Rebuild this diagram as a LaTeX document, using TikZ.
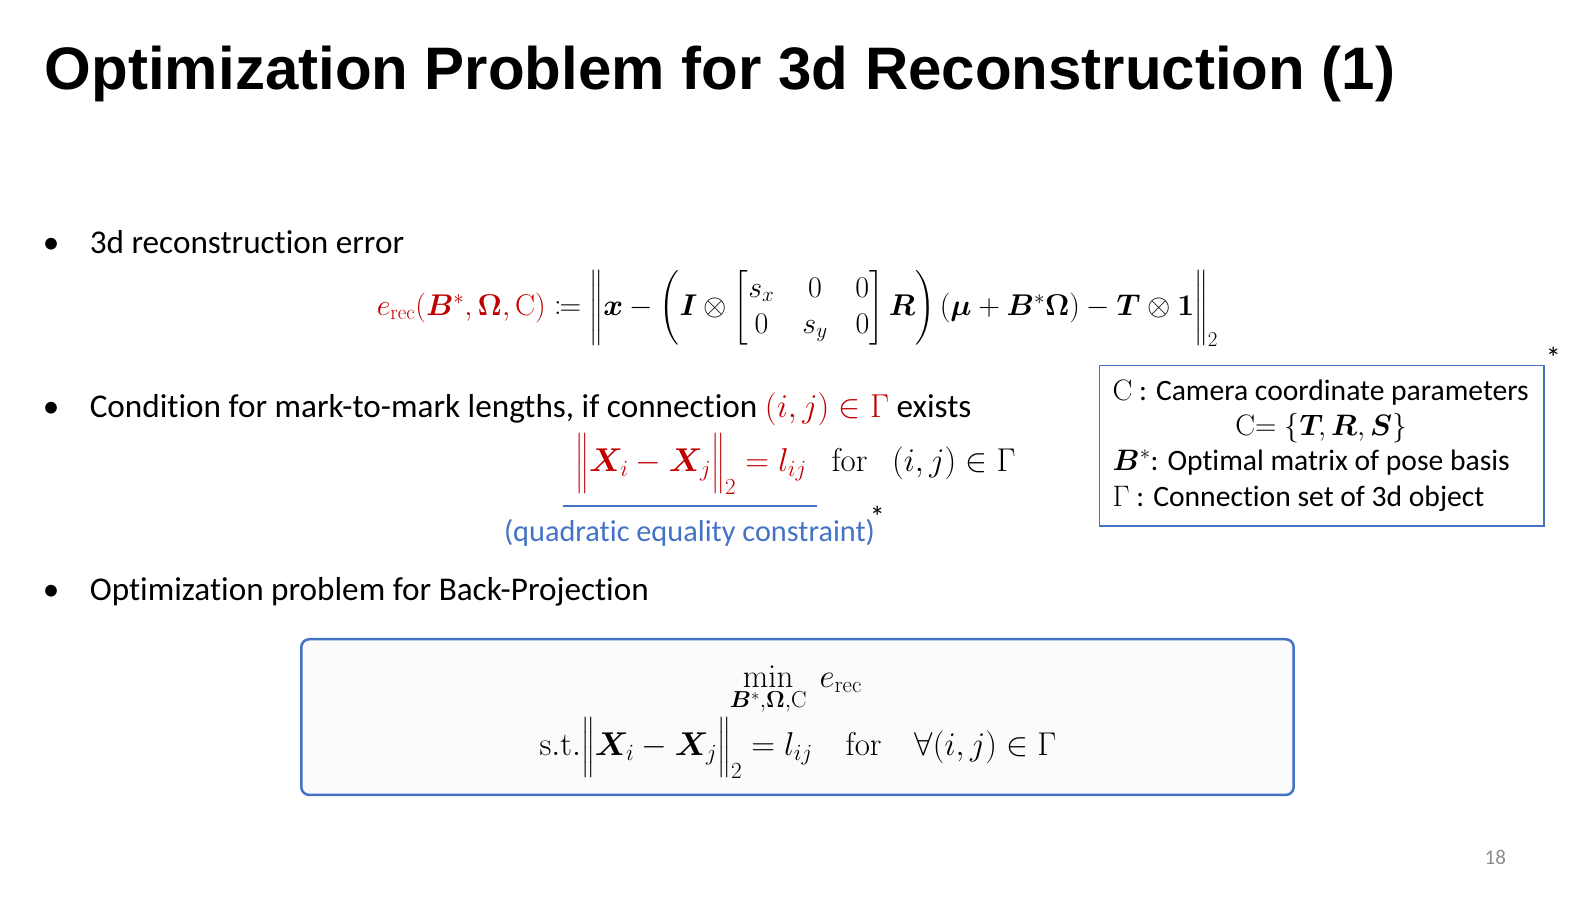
\RequirePackage{fix-cm}
\documentclass[tikz,border=0pt]{standalone}
\usepackage{mathtools}
\usepackage{bm}
\usepackage[no-math]{fontspec}
\setmainfont{Carlito}[Ligatures=NoCommon]
\newfontfamily\titlefont{Liberation Sans}
\definecolor{slidered}{HTML}{C00000}
\definecolor{slideblue}{HTML}{4472C4}
\definecolor{boxgray}{HTML}{FBFBFB}
\definecolor{pagegray}{HTML}{8C8C8C}
\newcommand\pxu{1.01786}

\begin{document}
\begin{tikzpicture}[x=\pxu pt,y=-\pxu pt,
  body/.style={anchor=base west,inner sep=0pt,font=\fontsize{33.2}{40}\selectfont},
  eq/.style={inner sep=0pt,font=\fontsize{30}{36}\selectfont},
  note/.style={anchor=base west,inner sep=0pt,font=\fontsize{29.6}{35}\selectfont},
  star/.style={anchor=north,inner sep=0pt,font=\fontsize{30}{36}\selectfont}]
  \useasboundingbox (0,0) rectangle (1568,880.3);
  \node[anchor=base west,inner sep=0pt,font=\titlefont\bfseries\fontsize{60}{70}\selectfont] (title) at (44,88) {Optimization Problem for 3d Reconstruction (1)};
  % bullets
  \node[body] (b1) at (42,249) {•};
  \node[body] (t1) at (88,249) {3d reconstruction error};
  \node[body] (b2) at (42,410) {•};
  \node[body] (t2) at (88,410) {Condition for mark-to-mark lengths, if connection {\color{slidered}$(i,j)\in\Gamma$} exists};
  \node[body] (b3) at (42,590) {•};
  \node[body] (t3) at (88,590) {Optimization problem for Back-Projection};
  % reconstruction error
  \node[eq,anchor=west] (erec) at (370,303) {\arraycolsep=14pt${\color{slidered}e_{\mathrm{rec}}(\bm{B}^*,\bm{\Omega},\mathrm{C})}\coloneqq\left\|\bm{x}-\left(\bm{I}\otimes\begin{bmatrix}s_x&0&0\\0&s_y&0\end{bmatrix}\bm{R}\right)(\bm{\mu}+\bm{B}^*\bm{\Omega})-\bm{T}\otimes\bm{1}\right\|_2$};
  % mark-to-mark condition
  \node[eq,anchor=west,font=\fontsize{33}{40}\selectfont] (cond) at (565,456) {${\color{slidered}\Big\|\bm{X}_i-\bm{X}_j\Big\|_2=l_{ij}}\hspace{0.75em}\mathrm{for}\hspace{0.75em}(i,j)\in\Gamma$};
  \coordinate (ulL) at (553,497);
  \coordinate (ulR) at (803,497);
  \draw[slideblue,line width=2] (ulL) -- (ulR);
  \node[note,text=slideblue,font=\fontsize{30.3}{36}\selectfont] (quad) at (495,532) {(quadratic equality constraint)};
  \node[star] (s1) at (862,497) {*};
  % legend
  \node[draw=slideblue,line width=1.5,minimum width={437*\pxu},minimum height={158*\pxu},inner sep=0pt] (info) at (1298.5,438) {};
  \node[note] (c1) at (1093,393) {$\mathrm{C}$ : Camera coordinate parameters};
  \node[note,anchor=base] (c2) at (1298,428) {$\mathrm{C}{=}\;\{\bm{T}\!,\bm{R},\bm{S}\}$};
  \node[note] (c3) at (1093,462) {$\bm{B}^*$: Optimal matrix of pose basis};
  \node[note] (c4) at (1093,498) {$\Gamma$ : Connection set of 3d object};
  \node[star] (s2) at (1526,341) {*};
  % back-projection problem
  \node[draw=slideblue,fill=boxgray,line width=2.5,rounded corners=8,minimum width={975*\pxu},minimum height={153*\pxu},inner sep=0pt] (opt) at (783.5,704.5) {};
  \node[eq,font=\fontsize{33}{40}\selectfont] (minln) at (782,678) {$\displaystyle\min_{\bm{B}^*,\bm{\Omega},\mathrm{C}}\ e_{\mathrm{rec}}$};
  \node[eq,font=\fontsize{33}{40}\selectfont] (stln) at (784,735) {$\mathrm{s.t.}\Big\|\bm{X}_i-\bm{X}_j\Big\|_2=l_{ij}\quad\mathrm{for}\quad\forall(i,j)\in\Gamma$};
  \node[inner sep=0pt,font=\fontsize{21}{25}\selectfont,text=pagegray] (pg) at (1469,842) {18};
\end{tikzpicture}
\end{document}
